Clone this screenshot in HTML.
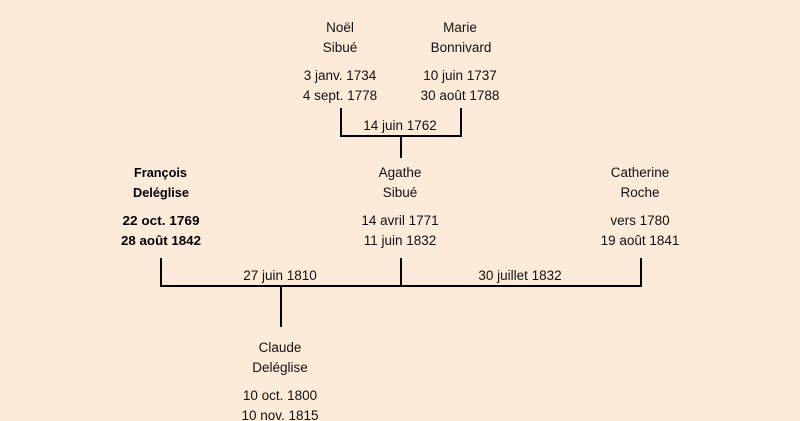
<!DOCTYPE html>
<html lang="fr">
<head>
<meta charset="utf-8">
<title>Arbre généalogique</title>
<style>
html,body{margin:0;padding:0;background:#fdebd9;}
body{width:800px;height:421px;overflow:hidden;}
svg{display:block;}
text{font-family:"Liberation Sans",sans-serif;font-size:13.5px;fill:#111;text-anchor:middle;}
.b{font-weight:bold;fill:#000;font-size:13px;}
path{fill:none;stroke:#000;stroke-width:2;}
</style>
</head>
<body>
<svg width="800" height="421" viewBox="0 0 800 421" xmlns="http://www.w3.org/2000/svg">
<rect width="800" height="421" fill="#fdebd9"/>
<path d="M341 108V136H461V108M401 136V158"/>
<path d="M161 258V286H641V258M401 258V286M281 286V327"/>

<text x="340" y="32">Noël</text>
<text x="340" y="52">Sibué</text>
<text x="340" y="80">3 janv. 1734</text>
<text x="340" y="100">4 sept. 1778</text>

<text x="460" y="32">Marie</text>
<text x="461" y="52">Bonnivard</text>
<text x="460" y="80">10 juin 1737</text>
<text x="460" y="100">30 août 1788</text>

<text x="400" y="130">14 juin 1762</text>

<text class="b" x="160.5" y="177" textLength="53" lengthAdjust="spacingAndGlyphs">François</text>
<text class="b" x="161" y="197" textLength="56" lengthAdjust="spacingAndGlyphs">Deléglise</text>
<text class="b" x="161" y="225" textLength="77" lengthAdjust="spacingAndGlyphs">22 oct. 1769</text>
<text class="b" x="161" y="245" textLength="80" lengthAdjust="spacingAndGlyphs">28 août 1842</text>

<text x="400" y="177">Agathe</text>
<text x="400" y="197">Sibué</text>
<text x="400" y="225">14 avril 1771</text>
<text x="400" y="245">11 juin 1832</text>

<text x="640" y="177">Catherine</text>
<text x="640" y="197">Roche</text>
<text x="640" y="225">vers 1780</text>
<text x="640" y="245">19 août 1841</text>

<text x="280" y="280">27 juin 1810</text>
<text x="520" y="280">30 juillet 1832</text>

<text x="280" y="352">Claude</text>
<text x="280" y="372">Deléglise</text>
<text x="280" y="400">10 oct. 1800</text>
<text x="280" y="420">10 nov. 1815</text>
</svg>
</body>
</html>
